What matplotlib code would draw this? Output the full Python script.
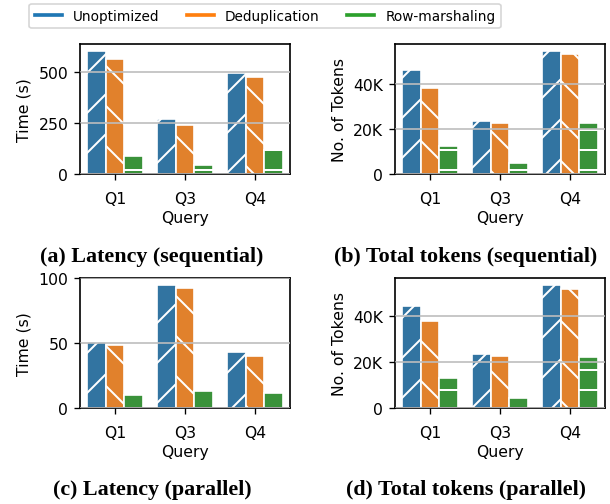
import numpy as np
import matplotlib
matplotlib.use("Agg")
import matplotlib.pyplot as plt
from matplotlib.lines import Line2D
from matplotlib.ticker import FuncFormatter

queries = ["Q1", "Q3", "Q4"]
methods = ["Unoptimized", "Deduplication", "Row-marshaling"]

# (a) Latency sequential (s)
lat_seq_unopt = [600, 270, 495]
lat_seq_dedup = [562, 239, 474]
lat_seq_row = [87, 46, 118]
# (b) Total tokens sequential
tok_seq_unopt = [46000, 23300, 54300]
tok_seq_dedup = [37900, 22600, 53000]
tok_seq_row = [12500, 4700, 22600]
# (c) Latency parallel (s)
lat_par_unopt = [50.6, 94.3, 43.4]
lat_par_dedup = [48.6, 92.5, 40.1]
lat_par_row = [10.0, 13.4, 11.3]
# (d) Total tokens parallel
tok_par_unopt = [44000, 23200, 53100]
tok_par_dedup = [37800, 22700, 51700]
tok_par_row = [13000, 4500, 21900]

captions = ["(a) Latency (sequential)", "(b) Total tokens (sequential)",
            "(c) Latency (parallel)", "(d) Total tokens (parallel)"]

bar_colors = ["#3274a1", "#e1812c", "#3a923a"]
line_colors = ["#1f77b4", "#ff7f0e", "#2ca02c"]
hatches = ["/", "\\", "-"]

DPI = 120
W, H = 610, 505
FS = 9.4
plt.rcParams["font.family"] = "DejaVu Sans"
plt.rcParams["font.size"] = FS
plt.rcParams["hatch.linewidth"] = 1.2
plt.rcParams["hatch.color"] = "white"

fig = plt.figure(figsize=(W / DPI, H / DPI), dpi=DPI)

def rect(l, t, r, b):
    return [l / W, 1 - b / H, (r - l) / W, (b - t) / H]

panels = [
    (rect(80, 45, 290, 175), [lat_seq_unopt, lat_seq_dedup, lat_seq_row], "Time (s)", [0, 250, 500], None, False),
    (rect(395, 45, 605, 175), [tok_seq_unopt, tok_seq_dedup, tok_seq_row], "No. of Tokens", [0, 20000, 40000], None, True),
    (rect(80, 279, 290, 409), [lat_par_unopt, lat_par_dedup, lat_par_row], "Time (s)", [0, 50, 100], (0, 100), False),
    (rect(395, 279, 605, 409), [tok_par_unopt, tok_par_dedup, tok_par_row], "No. of Tokens", [0, 20000, 40000], None, True),
]

kfmt = FuncFormatter(lambda v, p: "0" if v == 0 else f"{int(round(v / 1000))}K")
x = np.arange(len(queries))
bw = 0.8 / 3
for (r, series, ylabel, yticks, ylim, isk) in panels:
    ax = fig.add_axes(r)
    for i, vals in enumerate(series):
        ax.bar(x + (i - 1) * bw, vals, width=bw, color=bar_colors[i],
               edgecolor="white", linewidth=1.0, hatch=hatches[i], zorder=2)
    ax.set_xlim(-0.5, len(queries) - 0.5)
    if ylim:
        ax.set_ylim(*ylim)
    else:
        ax.set_ylim(0, max(max(s) for s in series) * 1.06)
    ax.set_yticks(yticks)
    if isk:
        ax.yaxis.set_major_formatter(kfmt)
    ax.set_xticks(x)
    ax.set_xticklabels(queries)
    ax.tick_params(axis="x", pad=7)
    ax.set_xlabel("Query", labelpad=2)
    ax.set_ylabel(ylabel)
    ax.yaxis.grid(True, color="#bdbdbd", linewidth=1.0, zorder=3)
    ax.set_axisbelow(False)
    for s in ax.spines.values():
        s.set_linewidth(1.0)

cap_pos = [(152, 257), (466, 257), (152, 490), (466, 490)]
for c, (cx, cy) in zip(captions, cap_pos):
    fig.text(cx / W, 1 - cy / H, c, ha="center", va="center",
             family="Liberation Serif", fontweight="bold", fontsize=13.2)

handles = [Line2D([0], [0], color=c, lw=2.2) for c in line_colors]
fig.legend(handles, methods, loc="center", bbox_to_anchor=(265 / W, 1 - 17 / H),
           ncol=3, frameon=True, fontsize=8.2, handlelength=2.0, columnspacing=2.0,
           borderpad=0.4, fancybox=True)

fig.savefig("out.png", dpi=DPI)
